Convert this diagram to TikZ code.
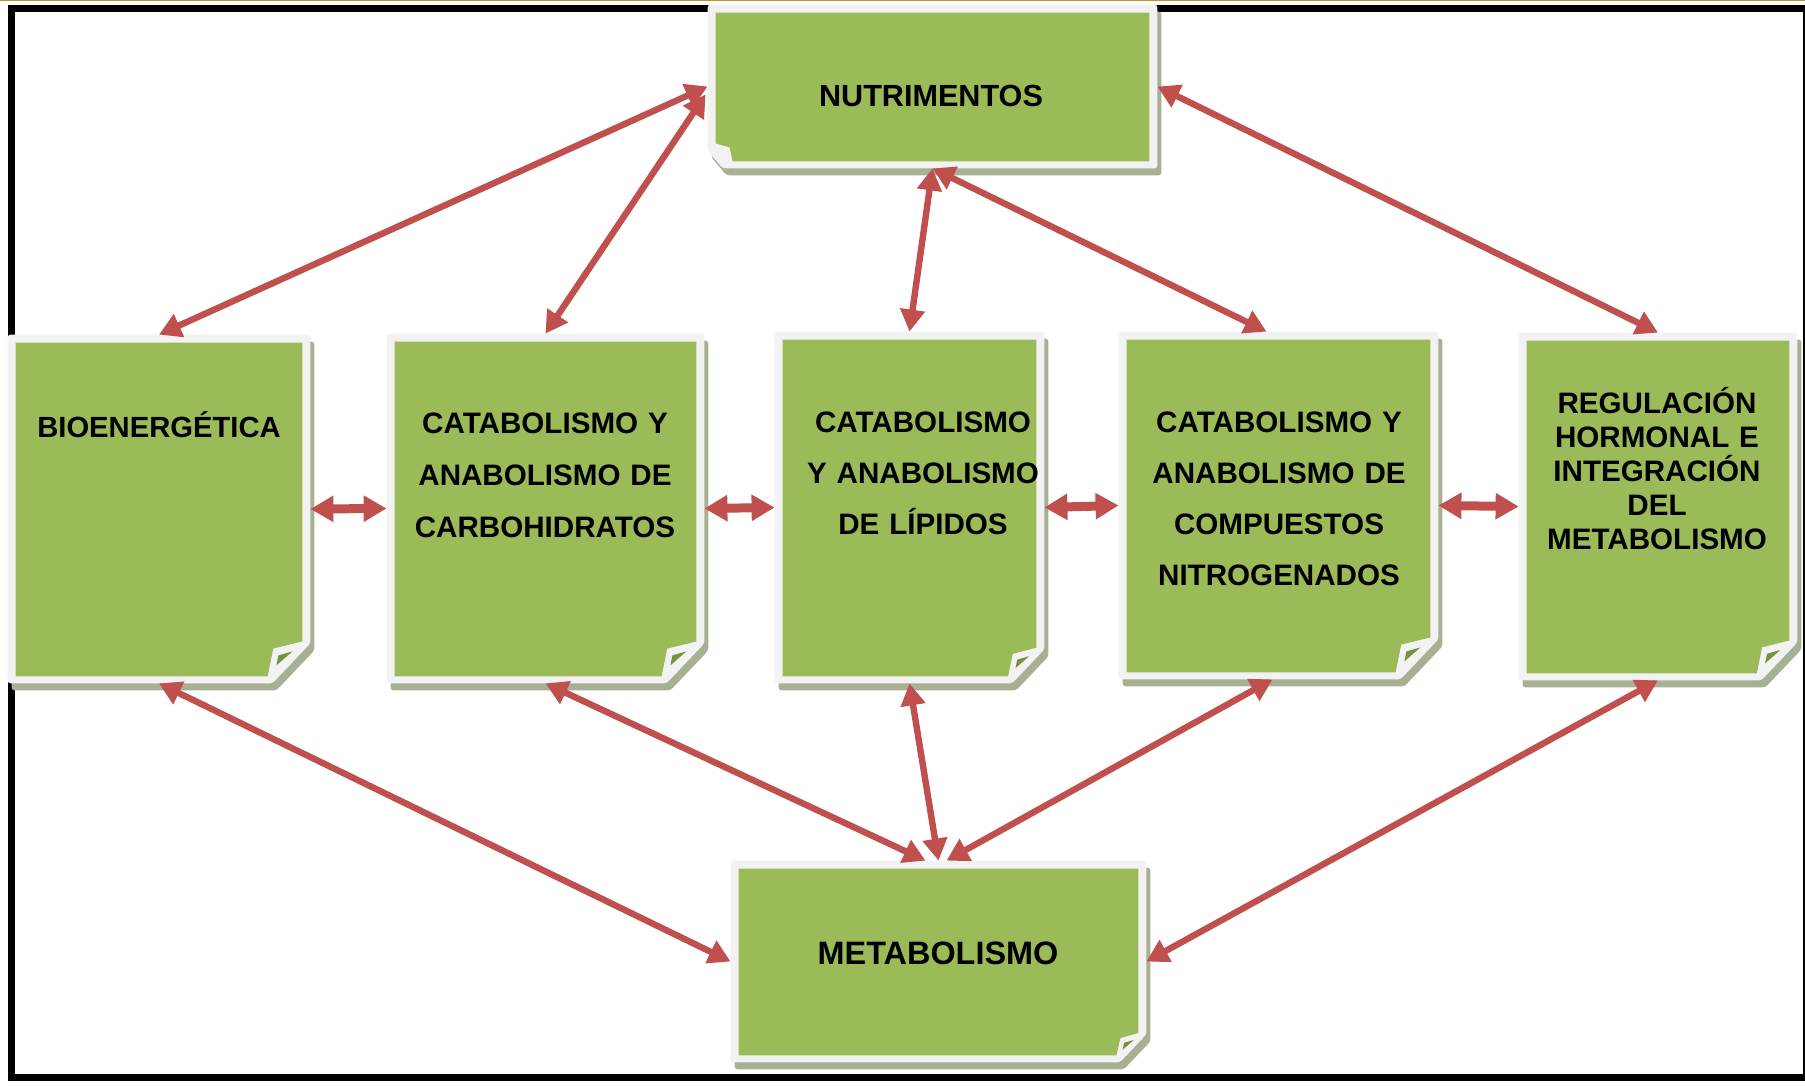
\documentclass[tikz,border=0pt]{standalone}
\usepackage{fontspec}
\setmainfont{Liberation Sans}
\usetikzlibrary{arrows.meta,calc,fit}
\definecolor{pgreen}{HTML}{9BBB59}
\definecolor{pwhite}{HTML}{F2F2F2}
\definecolor{pshadow}{HTML}{A6B194}
\definecolor{pdark}{HTML}{76923C}
\definecolor{pred}{HTML}{C0504D}
\definecolor{goldline}{HTML}{B8972B}
\newcommand\paperBR[2]{%
 \fill[pshadow,rounded corners=1.5pt] ($(#1.north west)+(4,7)$) -- ($(#1.north east)+(4,7)$) -- ($(#1.south east)+(4,{7-#2})$) -- ($(#1.south east)+({4-0.95*#2},7)$) -- ($(#1.south west)+(4,7)$) -- cycle;
 \fill[pwhite,rounded corners=1.5pt] (#1.north west) -- (#1.north east) -- ($(#1.south east)+(0,{-#2})$) -- ($(#1.south east)+({-0.95*#2},0)$) -- (#1.south west) -- cycle;
 \fill[pgreen] ($(#1.north west)+(8,8)$) -- ($(#1.north east)+(-8,8)$) -- ($(#1.south east)+(-8,{-1.05*#2})$) -- ($(#1.south east)+({-0.93*#2},{-0.87*#2})$) -- ($(#1.south east)+({-1.07*#2},-7)$) -- ($(#1.south west)+(8,-7)$) -- cycle;
 \fill[pdark] ($(#1.south east)+({-0.8*#2},{-0.7*#2})$) -- ($(#1.south east)+({-0.45*#2},{-0.8*#2})$) -- ($(#1.south east)+({-0.85*#2},{-0.45*#2})$) -- cycle;
}
\tikzset{
 boxn/.style={inner sep=0pt, draw=none},
 lbl/.style={align=center, text width=170pt, inner sep=0pt, anchor=base, text=black},
 link/.style={draw=pred, line width=3.2pt, arrows={Triangle[length=11pt,width=12pt]-Triangle[length=11pt,width=12pt]}},
 blk/.style={draw=pred, line width=4.5pt, arrows={Triangle[length=11.5pt,width=12.5pt]-Triangle[length=11.5pt,width=12.5pt]}}
}
\begin{document}
\begin{tikzpicture}[x=0.5pt,y=-0.5pt]
\useasboundingbox (0,0) rectangle (1805,1086);
\fill[white] (0,0) rectangle (1805,1086);
\draw[goldline, line width=0.6pt] (0,0.6) -- (1805,0.6);
\draw[black, line width=3.5pt] (11.5,8.5) rectangle (1806,1077.5);
% boxes
\node[boxn, fit={(708,5) (1157,168)}] (nutri) {};
\node[boxn, fit={(8,335) (310,683)}] (bio) {};
\node[boxn, fit={(387,334) (704,683)}] (carbo) {};
\node[boxn, fit={(775,332) (1044,683)}] (lip) {};
\node[boxn, fit={(1119,332) (1438,679)}] (nitro) {};
\node[boxn, fit={(1519,333) (1797,680)}] (reg) {};
\node[boxn, fit={(731,861) (1146,1062)}] (metab) {};
% nutrimentos (fold at bottom left)
\fill[pshadow,rounded corners=1.5pt] ($(nutri.north west)+(4,7)$) -- ($(nutri.north east)+(4,7)$) -- ($(nutri.south east)+(4,7)$) -- ($(nutri.south west)+(19,7)$) -- ($(nutri.south west)+(4,-11)$) -- cycle;
\fill[pwhite,rounded corners=1.5pt] (nutri.north west) -- (nutri.north east) -- (nutri.south east) -- ($(nutri.south west)+(15,0)$) -- ($(nutri.south west)+(0,-18)$) -- cycle;
\fill[pgreen] ($(nutri.north west)+(8,8)$) -- ($(nutri.north east)+(-8,8)$) -- ($(nutri.south east)+(-8,-7)$) -- ($(nutri.south west)+(25,-7)$) -- ($(nutri.south west)+(22,-21)$) -- ($(nutri.south west)+(8,-25)$) -- cycle;
\paperBR{bio}{40}
\paperBR{carbo}{40}
\paperBR{lip}{34}
\paperBR{nitro}{40}
\paperBR{reg}{38}
\paperBR{metab}{28}
% texts
\node[lbl, font=\fontsize{15.3pt}{18pt}\selectfont\bfseries] (nutriT) at (931,107) {NUTRIMENTOS};
\node[lbl, font=\fontsize{14.6pt}{18pt}\selectfont\bfseries] (bioT) at (159,437) {BIOENERGÉTICA};
\node[lbl, font=\fontsize{14.8pt}{26pt}\selectfont\bfseries] (carboT) at (545,433) {CATABOLISMO Y\\ANABOLISMO DE\\CARBOHIDRATOS};
\node[lbl, font=\fontsize{14.8pt}{25.5pt}\selectfont\bfseries] (lipT) at (923,432) {CATABOLISMO\\Y ANABOLISMO\\DE LÍPIDOS};
\node[lbl, font=\fontsize{14.8pt}{25.5pt}\selectfont\bfseries] (nitroT) at (1279,432) {CATABOLISMO Y\\ANABOLISMO DE\\COMPUESTOS\\NITROGENADOS};
\node[lbl, font=\fontsize{14.8pt}{17pt}\selectfont\bfseries] (regT) at (1657,413) {REGULACIÓN\\HORMONAL E\\INTEGRACIÓN\\DEL\\METABOLISMO};
\node[lbl, font=\fontsize{16.2pt}{18pt}\selectfont\bfseries] (metabT) at (938,964) {METABOLISMO};
% connectors
\draw[link] (nutri.west) -- (bio.north);
\draw[link] ($(nutri.west)+(-2,8)$) -- (carbo.north);
\draw[link] (nutri.south) -- (lip.north);
\draw[link] (nutri.south) -- ($(nitro.north)+(-12,0)$);
\draw[link] (nutri.east) -- (reg.north);
\draw[link] (bio.south) -- (metab.west);
\draw[link] (carbo.south) -- ($(metab.north)+(-13,0)$);
\draw[link] (lip.south) -- (metab.north);
\draw[link] ($(nitro.south)+(-6,0)$) -- ($(metab.north)+(8,0)$);
\draw[link] (reg.south) -- (metab.east);
\draw[blk] (bio.east) -- (carbo.west);
\draw[blk] (carbo.east) -- (lip.west);
\draw[blk] (lip.east) -- (nitro.west);
\draw[blk] (nitro.east) -- (reg.west);
\end{tikzpicture}
\end{document}
